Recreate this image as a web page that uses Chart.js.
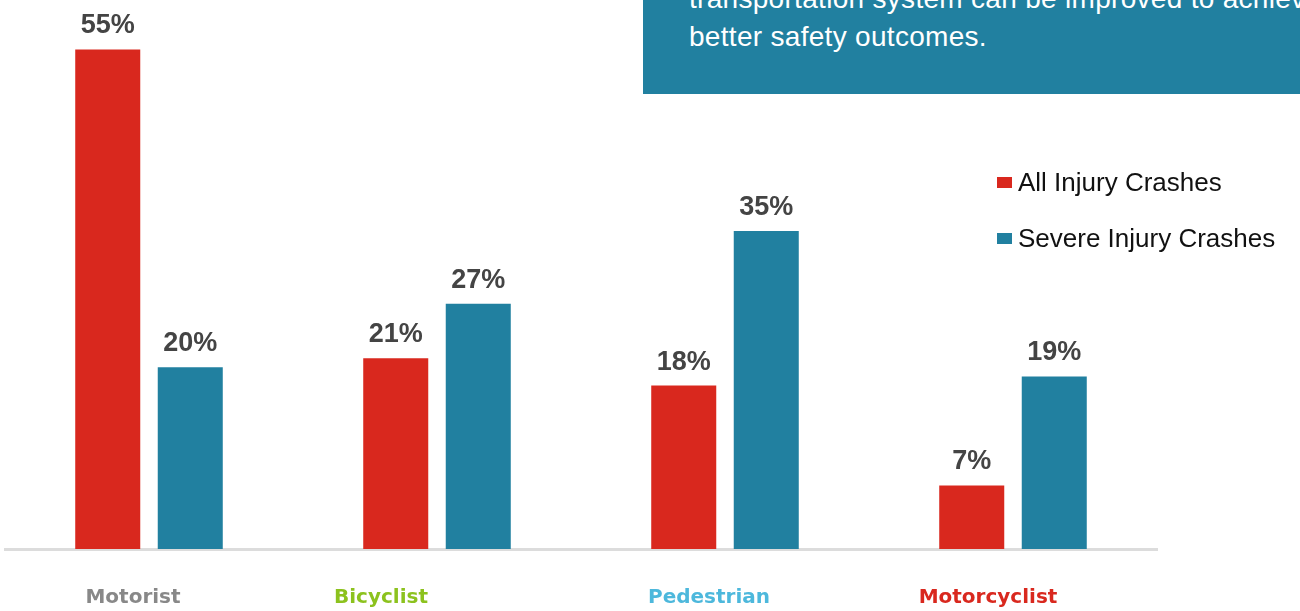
<!DOCTYPE html>
<html>
<head>
<meta charset="utf-8">
<script src="https://cdn.jsdelivr.net/npm/chart.js@4.4.1/dist/chart.umd.min.js"></script>
<style>
  html, body { margin: 0; padding: 0; background: #fff; overflow: hidden; }
  #wrap { position: relative; width: 1300px; height: 611px; }
  #chart { position: absolute; left: 0; top: 0; }
  #note { position: absolute; left: 643px; top: 0; width: 657px; height: 94px; background: #2180a0; overflow: hidden; }
  #note div { position: absolute; left: 46px; top: -20px; white-space: nowrap; color: #fff;
    font: 28px 'Liberation Sans', Arial, sans-serif; line-height: 38px; letter-spacing: 0.3px; }
  #legend { position: absolute; left: 997px; top: 154px; font: 26px 'Liberation Sans', Arial, sans-serif; color: #111; }
  #legend .row { position: relative; height: 56px; line-height: 56px; white-space: nowrap; }
  #legend .box { position: absolute; left: 0; top: 23px; width: 15px; height: 11px; }
  #legend .txt { position: absolute; left: 21px; top: 0; }
</style>
</head>
<body>
<div id="wrap">
  <canvas id="chart" width="1300" height="611"></canvas>
  <div id="note"><div>transportation system can be improved to achieve<br>better safety outcomes.</div></div>
  <div id="legend"></div>
</div>
<script>
// data
const categories = ['Motorist', 'Bicyclist', 'Pedestrian', 'Motorcyclist'];
const seriesNames = ['All Injury Crashes', 'Severe Injury Crashes'];
const allInjury = [55, 21, 18, 7];
const severeInjury = [20, 27, 35, 19];

// styles
const seriesColors = ['#d9281e', '#2180a0'];
const categoryColors = ['#888888', '#8cc21e', '#4db8dc', '#d9281e'];
const labelShift = [-16, -56, -16, -25];

// legend (html so it can sit inside the plot like the original)
const legendEl = document.getElementById('legend');
seriesNames.forEach((name, i) => {
  const row = document.createElement('div');
  row.className = 'row';
  row.innerHTML = '<span class="box" style="background:' + seriesColors[i] + '"></span><span class="txt">' + name + '</span>';
  legendEl.appendChild(row);
});

const barLabels = {
  id: 'barLabels',
  afterDatasetsDraw(chart) {
    const ctx = chart.ctx;
    ctx.save();
    ctx.font = "bold 27px 'Liberation Sans', Arial, sans-serif";
    ctx.fillStyle = '#444';
    ctx.textAlign = 'center';
    ctx.textBaseline = 'alphabetic';
    chart.data.datasets.forEach((ds, di) => {
      chart.getDatasetMeta(di).data.forEach((bar, i) => {
        ctx.fillText(ds.data[i] + '%', bar.x, bar.y - 16);
      });
    });
    ctx.restore();
  }
};

const categoryLabels = {
  id: 'categoryLabels',
  afterDraw(chart) {
    const ctx = chart.ctx;
    const x = chart.scales.x;
    ctx.save();
    ctx.font = "bold 20px 'DejaVu Sans', Verdana, sans-serif";
    ctx.textAlign = 'center';
    ctx.textBaseline = 'alphabetic';
    categories.forEach((c, i) => {
      ctx.fillStyle = categoryColors[i];
      ctx.fillText(c, x.getPixelForValue(i) + labelShift[i], chart.chartArea.bottom + 54);
    });
    ctx.restore();
  }
};

new Chart(document.getElementById('chart'), {
  type: 'bar',
  data: {
    labels: categories,
    datasets: [
      { label: seriesNames[0], data: allInjury, backgroundColor: seriesColors[0] },
      { label: seriesNames[1], data: severeInjury, backgroundColor: seriesColors[1] }
    ]
  },
  options: {
    responsive: false,
    animation: false,
    layout: { padding: { left: 5, right: 143, top: 4, bottom: 54 } },
    datasets: { bar: { categoryPercentage: 0.573, barPercentage: 0.788, borderWidth: 0 } },
    plugins: { legend: { display: false }, tooltip: { enabled: false } },
    scales: {
      x: {
        grid: { display: false },
        ticks: { display: false },
        border: { display: true, color: '#dcdcdc', width: 3 }
      },
      y: { display: false, min: 0, max: 60 }
    }
  },
  plugins: [barLabels, categoryLabels]
});
</script>
</body>
</html>
